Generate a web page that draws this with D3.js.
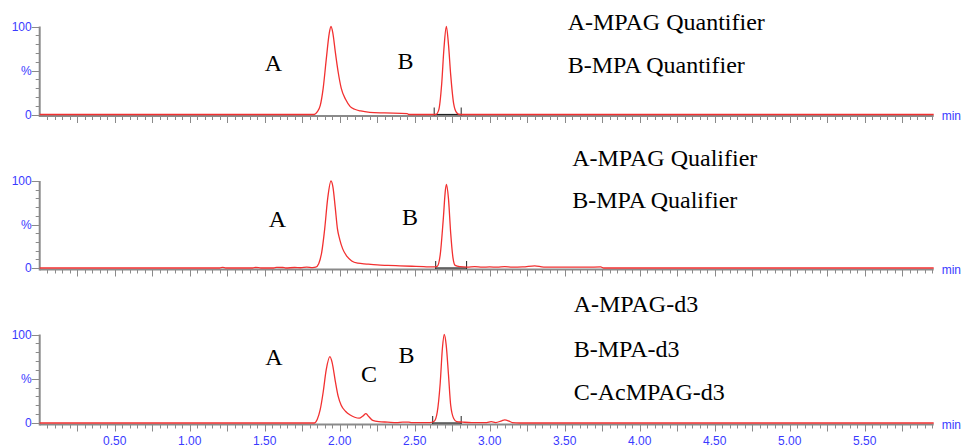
<!DOCTYPE html>
<html>
<head>
<meta charset="utf-8">
<script src="https://cdn.jsdelivr.net/npm/d3@7"></script>
<style>
  body { margin: 0; background: #fff; }
  svg { display: block; }
</style>
</head>
<body>
<div id="chart"></div>
<script>
// retention time (min) and relative intensity (%)
const quantTime = [0, 1.83, 1.85, 1.87, 1.89, 1.91, 1.93, 1.942, 1.955, 1.97, 1.99, 2.01, 2.04, 2.07, 2.10, 2.14, 2.20, 2.30, 2.45, 2.46,
    2.64, 2.66, 2.68, 2.695, 2.711, 2.725, 2.74, 2.76, 2.78, 2.80, 5.96];
const quantValue = [0, 0, 3, 10, 30, 62, 92, 100, 92, 72, 48, 30, 17, 9, 6, 4, 2.5, 1.8, 1, 0,
    0, 5, 35, 75, 100, 80, 45, 12, 2, 0, 0];

const qualTime = [0, 1.20, 1.22, 1.24, 1.42, 1.44, 1.46, 1.48, 1.56, 1.58, 1.62, 1.64, 1.70, 1.74, 1.78, 1.82,
    1.84, 1.86, 1.88, 1.90, 1.92, 1.942, 1.955, 1.97, 1.985, 2.00, 2.02, 2.05, 2.08, 2.12, 2.18, 2.25, 2.32, 2.40, 2.48, 2.56, 2.62,
    2.65, 2.67, 2.69, 2.705, 2.712, 2.725, 2.74, 2.755, 2.77, 2.80, 2.85, 2.90, 2.95, 3.00, 3.05, 3.10, 3.15, 3.22, 3.30, 3.36, 3.50, 3.65, 3.74, 3.76, 5.96];
const qualValue = [0, 0, 0.8, 0, 0, 0.6, 0.4, 0, 0, 0.8, 0.6, 0, 0.6, 0.3, 1.0, 0.5,
    1, 5, 18, 45, 80, 100, 93, 70, 45, 33, 22, 13, 8, 5.5, 4.5, 3.5, 3, 2.5, 2, 1.5, 1.2,
    2, 15, 55, 90, 96, 80, 40, 12, 3, 1.5, 1, 1.5, 1, 1.2, 1, 1.5, 1, 1.2, 2.5, 1, 1, 1, 1.2, 0, 0];

const d3Time = [0, 1.83, 1.85, 1.87, 1.89, 1.91, 1.935, 1.95, 1.97, 1.99, 2.01, 2.04, 2.07, 2.10, 2.13, 2.155, 2.175, 2.195, 2.22, 2.26, 2.32, 2.38, 2.42, 2.46, 2.48, 2.60,
    2.63, 2.65, 2.67, 2.685, 2.697, 2.71, 2.725, 2.74, 2.76, 2.78, 2.82, 2.88, 2.98, 3.01, 3.04, 3.08, 3.10, 3.13, 3.15, 3.20, 5.96];
const d3Value = [0, 0, 4, 15, 35, 60, 75, 68, 48, 30, 20, 13, 9, 6.5, 5.5, 8, 10.5, 7, 3, 1.5, 1, 0.5, 1, 1, 0.5, 0.5,
    2, 12, 45, 85, 100, 88, 55, 20, 5, 1.5, 1, 0.5, 0.5, 1.5, 0.5, 2.5, 3.5, 2, 0.5, 0, 0];

// integration start / end (min)
const quantMarks = [2.63, 2.81];
const qualMarks = [2.64, 2.846];
const d3Marks = [2.62, 2.81];

// peak letters: [letter, time, %]
const quantPeaks = [["A", 1.558, 49], ["B", 2.439, 52]];
const qualPeaks = [["A", 1.585, 47], ["B", 2.469, 49]];
const d3Peaks = [["A", 1.562, 65], ["C", 2.195, 46], ["B", 2.445, 68]];

// legend lines: [text, %] anchored at a retention time
const quantLegend = [["A-MPAG Quantifier", 96], ["B-MPA Quantifier", 47]];
const qualLegend = [["A-MPAG Qualifier", 117], ["B-MPA Qualifier", 69]];
const d3Legend = [["A-MPAG-d3", 125], ["B-MPA-d3", 75], ["C-AcMPAG-d3", 26]];
const legendTime = [3.52, 3.55, 3.56];

const xTickLabels = ["0.50", "1.00", "1.50", "2.00", "2.50", "3.00", "3.50", "4.00", "4.50", "5.00", "5.50"];
const yTickLabels = [[100, "100"], [50, "%"], [0, "0"]];

const width = 963, height = 446;
const axisColor = "#8a8a8a";
const labelColor = "#3a3aff";
const traceColor = "#f23030";

const svg = d3.select("#chart").append("svg")
    .attr("width", width)
    .attr("height", height);

const x = d3.scaleLinear()
    .domain([0, 5.96])
    .range([39.7, 933.7]);

const panels = [
    { top: 26.5, bottom: 114.5, time: quantTime, value: quantValue, marks: quantMarks, peaks: quantPeaks, legend: quantLegend, lt: legendTime[0] },
    { top: 181, bottom: 268, time: qualTime, value: qualValue, marks: qualMarks, peaks: qualPeaks, legend: qualLegend, lt: legendTime[1] },
    { top: 334.5, bottom: 423, time: d3Time, value: d3Value, marks: d3Marks, peaks: d3Peaks, legend: d3Legend, lt: legendTime[2] }
];

panels.forEach((p, i) => drawPanel(p, i === panels.length - 1));

function drawPanel(p, showTimes) {
    const y = d3.scaleLinear()
        .domain([0, 100])
        .range([p.bottom, p.top]);
    const axisY = p.bottom + 1.5;

    const g = svg.append("g");

    // x axis: minor every 0.05, longer every 0.25
    const minor = d3.range(1, 120).map(k => k * 0.05);
    g.append("line")
        .attr("x1", x(0)).attr("x2", x(5.96))
        .attr("y1", axisY).attr("y2", axisY)
        .attr("stroke", axisColor)
        .attr("stroke-width", 2);
    g.selectAll(".xtick")
        .data(minor)
        .enter().append("line")
        .attr("x1", d => Math.round(x(d)) + 0.5)
        .attr("x2", d => Math.round(x(d)) + 0.5)
        .attr("y1", axisY)
        .attr("y2", (d, k) => axisY + ((k + 1) % 5 === 0 ? 7 : 4))
        .attr("stroke", axisColor)
        .attr("stroke-width", 1);

    // y axis: ticks every 10 %
    g.append("line")
        .attr("x1", x(0)).attr("x2", x(0))
        .attr("y1", y(100)).attr("y2", axisY + 1)
        .attr("stroke", axisColor)
        .attr("stroke-width", 2);
    g.selectAll(".ytick")
        .data(d3.range(0, 101, 10))
        .enter().append("line")
        .attr("x1", d => x(0) - (d % 50 === 0 ? 8 : 4))
        .attr("x2", x(0))
        .attr("y1", d => Math.round(y(d)) + 0.5)
        .attr("y2", d => Math.round(y(d)) + 0.5)
        .attr("stroke", axisColor)
        .attr("stroke-width", 1);
    g.selectAll(".ylabel")
        .data(yTickLabels)
        .enter().append("text")
        .attr("x", x(0) - 8)
        .attr("y", d => y(d[0]))
        .attr("dy", "0.35em")
        .attr("text-anchor", "end")
        .attr("fill", labelColor)
        .style("font-family", "'Liberation Sans', Arial, sans-serif")
        .style("font-size", "12px")
        .text(d => d[1]);

    g.append("text")
        .attr("x", x(5.96) + 8)
        .attr("y", axisY)
        .attr("dy", "0.35em")
        .attr("fill", labelColor)
        .style("font-family", "'Liberation Sans', Arial, sans-serif")
        .style("font-size", "12px")
        .text("min");

    if (showTimes) {
        g.selectAll(".xlabel")
            .data(xTickLabels)
            .enter().append("text")
            .attr("x", d => x(+d))
            .attr("y", axisY + 20)
            .attr("text-anchor", "middle")
            .attr("fill", labelColor)
            .style("font-family", "'Liberation Sans', Arial, sans-serif")
            .style("font-size", "12px")
            .text(d => d);
    }

    // integration baseline + markers
    g.append("line")
        .attr("x1", x(p.marks[0])).attr("x2", x(p.marks[1]))
        .attr("y1", p.bottom).attr("y2", p.bottom)
        .attr("stroke", "#222")
        .attr("stroke-width", 1.2);
    g.selectAll(".mark")
        .data(p.marks)
        .enter().append("line")
        .attr("x1", d => x(d)).attr("x2", d => x(d))
        .attr("y1", p.bottom + 1)
        .attr("y2", p.bottom - 7)
        .attr("stroke", "#222")
        .attr("stroke-width", 1);

    // trace
    const pts = p.time.map((t, k) => [t, p.value[k]]);
    const line = d3.line()
        .x(d => x(d[0]))
        .y(d => y(d[1]))
        .curve(d3.curveMonotoneX);
    g.append("path")
        .datum(pts)
        .attr("fill", "none")
        .attr("stroke", traceColor)
        .attr("stroke-width", 1.3)
        .attr("d", line);

    // peak letters
    g.selectAll(".peak")
        .data(p.peaks)
        .enter().append("text")
        .attr("x", d => x(d[1]))
        .attr("y", d => y(d[2]))
        .attr("text-anchor", "middle")
        .attr("fill", "#000")
        .style("font-family", "'Liberation Serif', 'Times New Roman', serif")
        .style("font-size", "24px")
        .text(d => d[0]);

    // compound names
    g.selectAll(".legend")
        .data(p.legend)
        .enter().append("text")
        .attr("x", x(p.lt))
        .attr("y", d => y(d[1]))
        .attr("fill", "#000")
        .style("font-family", "'Liberation Serif', 'Times New Roman', serif")
        .style("font-size", "24px")
        .text(d => d[0]);
}
</script>
</body>
</html>
